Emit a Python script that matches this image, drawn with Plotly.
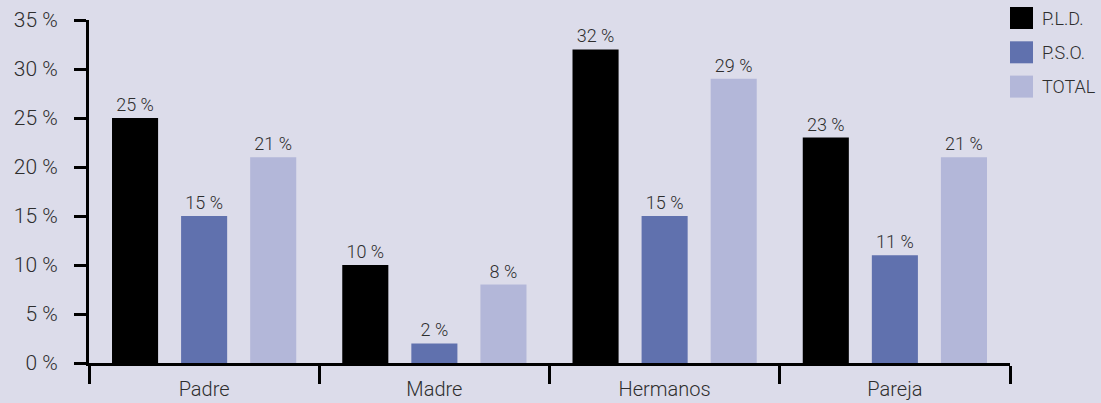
import plotly.graph_objects as go

categories = ["Padre", "Madre", "Hermanos", "Pareja"]
series_names = ["P.L.D.", "P.S.O.", "TOTAL"]
pld = [25, 10, 32, 23]
pso = [15, 2, 15, 11]
total = [21, 8, 29, 21]
y_ticks = [0, 5, 10, 15, 20, 25, 30, 35]

colors = ["#000000", "#6071ae", "#b3b7d9"]
bg = "#dcdcea"
font_family = "Roboto, sans-serif"
text_color = "#2e2e2e"

fig = go.Figure()
for name, vals, col in zip(series_names, [pld, pso, total], colors):
    fig.add_trace(go.Bar(
        x=categories, y=vals, name=name, marker_color=col,
        marker_line_width=0,
        text=[f"{v} %" for v in vals], texttemplate="%{text}",
        textposition="outside",
        textfont=dict(size=18, color=text_color, family=font_family, weight=300),
        cliponaxis=False, showlegend=False,
    ))

# plot area geometry (pixels)
W, H = 1101, 403
ml, mr, mt, mb = 89, 91, 20, 40
pw, ph = W - ml - mr, H - mt - mb

def px_x(x):
    return (x - ml) / pw

def px_y(y):
    return (H - mb - y) / ph

# legend drawn as swatches plus labels
for i, (name, col) in enumerate(zip(series_names, colors)):
    top = 7 + i * 34.3
    fig.add_shape(type="rect", xref="paper", yref="paper",
                  x0=px_x(1010), x1=px_x(1033), y0=px_y(top + 22), y1=px_y(top),
                  fillcolor=col, line_width=0)
    fig.add_annotation(xref="paper", yref="paper", x=px_x(1040), y=px_y(top + 11),
                       text=name, showarrow=False, xanchor="left", yanchor="middle",
                       font=dict(size=18, color=text_color, family=font_family, weight=300))

fig.update_layout(
    width=W, height=H,
    margin=dict(l=ml, r=mr, t=mt, b=mb, pad=0, autoexpand=False),
    paper_bgcolor=bg, plot_bgcolor=bg,
    barmode="group", bargap=0.10, bargroupgap=0.333,
    font=dict(family=font_family, color=text_color),
    uniformtext=dict(mode=False),
)
fig.update_yaxes(
    range=[0, 35], tickvals=y_ticks, ticktext=[f"{v} %" for v in y_ticks],
    showgrid=False, zeroline=False, automargin=False,
    showline=True, linecolor="black", linewidth=3,
    ticks="outside", ticklen=12, tickwidth=3, tickcolor="black",
    ticklabelstandoff=12,
    tickfont=dict(size=21, color=text_color, family=font_family, weight=300),
)
fig.update_xaxes(
    showgrid=False, automargin=False, showline=True, linecolor="black", linewidth=3,
    ticks="outside", tickson="boundaries", ticklen=18, tickwidth=3, tickcolor="black",
    ticklabelstandoff=6,
    tickfont=dict(size=20, color=text_color, family=font_family, weight=300),
)

fig.write_html("out.html")
